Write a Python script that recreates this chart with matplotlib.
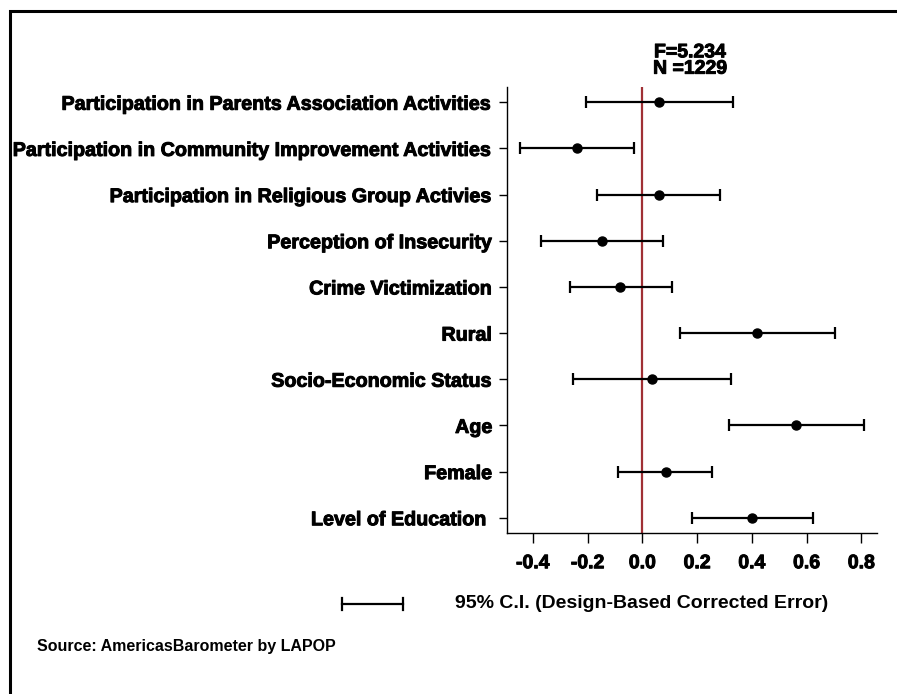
import matplotlib
matplotlib.use("Agg")
import matplotlib.pyplot as plt
import matplotlib.patheffects as pe
from matplotlib.lines import Line2D
from matplotlib.patches import Rectangle

labels = [
    "Participation in Parents Association Activities",
    "Participation in Community Improvement Activities",
    "Participation in Religious Group Activies",
    "Perception of Insecurity",
    "Crime Victimization",
    "Rural",
    "Socio-Economic Status",
    "Age",
    "Female",
    "Level of Education ",
]
coef = [0.061, -0.237, 0.061, -0.146, -0.080, 0.420, 0.034, 0.562, 0.085, 0.401]
lower = [-0.207, -0.446, -0.165, -0.371, -0.266, 0.138, -0.255, 0.318, -0.089, 0.181]
upper = [0.330, -0.029, 0.285, 0.077, 0.107, 0.703, 0.323, 0.809, 0.255, 0.623]
xticks = [-0.4, -0.2, 0.0, 0.2, 0.4, 0.6, 0.8]

plt.rcParams["font.family"] = ["Liberation Sans", "DejaVu Sans"]
plt.rcParams["font.weight"] = "bold"

heavy = [pe.withStroke(linewidth=0.7, foreground="black")]

fig = plt.figure(figsize=(8.97, 6.94), dpi=100)
ax = fig.add_axes([0.565, 0.232, 0.4127, 0.6426])

n = len(labels)
ypos = list(range(n - 1, -1, -1))
err_lo = [c - l for c, l in zip(coef, lower)]
err_hi = [u - c for c, u in zip(coef, upper)]

ax.axvline(0, color="#a03035", lw=1.6, zorder=1)
ax.errorbar(coef, ypos, xerr=[err_lo, err_hi], fmt="o", color="black",
            ms=6.5, lw=1.6, capsize=4, capthick=1.6, zorder=3)

ax.set_xlim(-0.495, 0.857)
ax.set_ylim(-0.33, n - 1 + 0.33)
ax.set_yticks(ypos)
ax.set_yticklabels(labels, fontsize=14.2, fontweight="bold")
ax.set_xticks(xticks)
ax.set_xticklabels(["%.1f" % t for t in xticks], fontsize=14, fontweight="bold")
for t in ax.get_yticklabels() + ax.get_xticklabels():
    t.set_path_effects(heavy)
ax.tick_params(axis="x", length=7, width=1, pad=9)
ax.tick_params(axis="y", length=6, width=1, pad=4.5)
for s in ["top", "right"]:
    ax.spines[s].set_visible(False)
ax.spines["left"].set_linewidth(1)
ax.spines["bottom"].set_linewidth(1)

fig.text(690 / 897, 1 - 61 / 694, "F=5.234\nN =1229", ha="center", va="center",
         fontsize=14, fontweight="bold", linespacing=0.95, path_effects=heavy)

# figure frame (right and bottom edges cut off)
fig.add_artist(Rectangle((9.5 / 897, -0.1), 1.2, 1 - 11 / 694 + 0.1,
                         transform=fig.transFigure, fill=False,
                         lw=2.2, edgecolor="black"))

# legend key for the confidence interval
ly = 1 - 604 / 694
x0, x1 = 342 / 897, 403 / 897
fig.add_artist(Line2D([x0, x1], [ly, ly], color="black", lw=1.6,
                      transform=fig.transFigure))
for xx in (x0, x1):
    fig.add_artist(Line2D([xx, xx], [ly - 6 / 694, ly + 6 / 694],
                          color="black", lw=1.6, transform=fig.transFigure))
fig.text(455 / 897, ly, "95% C.I. (Design-Based Corrected Error)",
         ha="left", va="center", fontsize=14, fontweight="bold")
fig.text(37 / 897, 1 - 646 / 694, "Source: AmericasBarometer by LAPOP",
         ha="left", va="center", fontsize=11.5, fontweight="bold")

fig.savefig("out.png", dpi=100)
